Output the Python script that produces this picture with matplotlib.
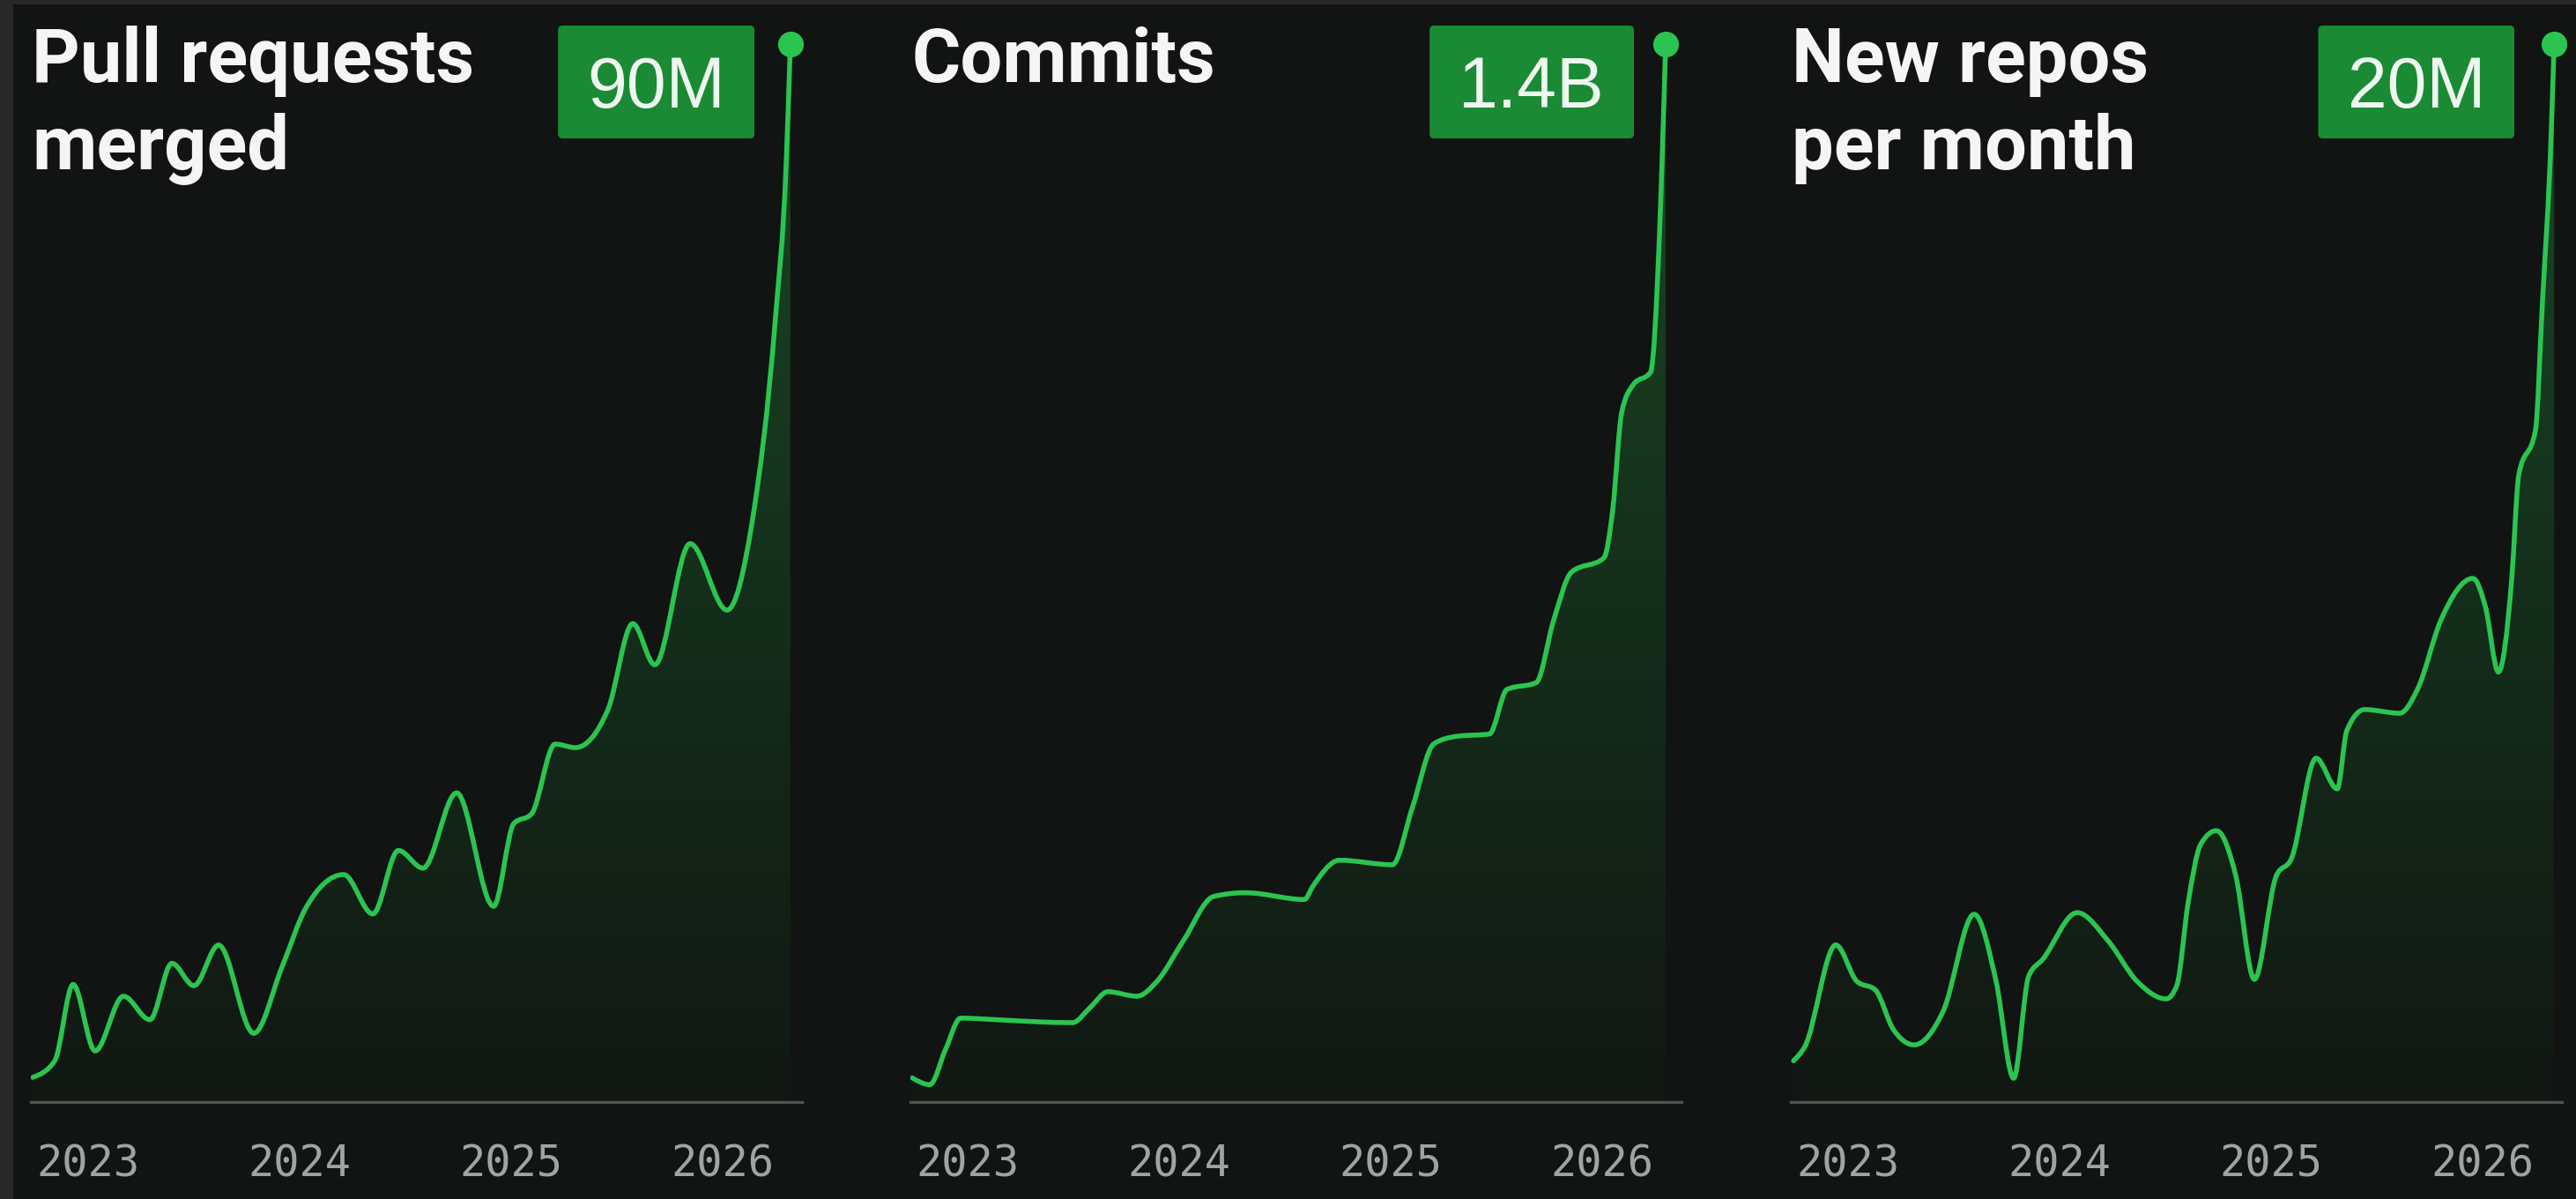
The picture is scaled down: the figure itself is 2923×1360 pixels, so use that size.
import numpy as np
import matplotlib
matplotlib.use("Agg")
import matplotlib.pyplot as plt
from matplotlib.path import Path
from matplotlib.patches import PathPatch, FancyBboxPatch, Rectangle
from matplotlib.colors import LinearSegmentedColormap
from matplotlib.transforms import IdentityTransform

W, H, DPI = 2923, 1360, 100

BG = "#111412"
FRAME = "#2a2728"
GREEN = "#2bc451"
BADGE = "#1b8a34"
AXIS_GRAY = "#4f5451"
TICK_GRAY = "#a0a4a1"

TITLES = ["Pull requests\nmerged", "Commits", "New repos\nper month"]
BADGE_FMT = ["{:.0f}M", "{:.1f}B", "{:.0f}M"]
YEARS = [2023, 2024, 2025, 2026]

# Pull requests merged (millions)
pr_t = [2022.738, 2022.842, 2022.929, 2023.033, 2023.167, 2023.292, 2023.396,
        2023.5, 2023.617, 2023.783, 2023.917, 2024.029, 2024.208, 2024.346,
        2024.467, 2024.583, 2024.742, 2024.917, 2025.013, 2025.096, 2025.208,
        2025.304, 2025.458, 2025.575, 2025.679, 2025.846, 2026.021, 2026.138,
        2026.25, 2026.3, 2026.32]
pr_v = [2.1, 3.5, 10.0, 4.35, 9.0, 7.0, 11.8, 9.9, 13.35, 5.85, 11.5, 16.5,
        19.35, 16.0, 21.4, 19.9, 26.3, 16.65, 23.7, 24.5, 30.45, 30.15, 33.4,
        40.7, 37.2, 47.5, 41.85, 49.2, 66.8, 79.7, 90.0]

# Commits (billions)
commit_t = [2022.738, 2022.821, 2022.896, 2022.967, 2023.133, 2023.342,
            2023.496, 2023.579, 2023.663, 2023.8, 2023.896, 2024.021, 2024.163,
            2024.313, 2024.592, 2024.633, 2024.758, 2025.008, 2025.104,
            2025.204, 2025.313, 2025.467, 2025.55, 2025.688, 2025.771,
            2025.854, 2026.008, 2026.05, 2026.092, 2026.146, 2026.229,
            2026.271, 2026.3]
commit_v = [0.032, 0.023, 0.070, 0.111, 0.109, 0.106, 0.105, 0.125, 0.146,
            0.140, 0.160, 0.214, 0.272, 0.277, 0.268, 0.286, 0.320, 0.314,
            0.391, 0.474, 0.484, 0.487, 0.546, 0.555, 0.638, 0.701, 0.720,
            0.784, 0.912, 0.949, 0.966, 1.149, 1.4]

# New repos per month (millions)
repo_t = [2022.742, 2022.796, 2022.942, 2023.042, 2023.129, 2023.213, 2023.313,
          2023.45, 2023.596, 2023.7, 2023.783, 2023.854, 2023.921, 2024.083,
          2024.229, 2024.367, 2024.504, 2024.554, 2024.608, 2024.667, 2024.742,
          2024.833, 2024.921, 2025.025, 2025.096, 2025.213, 2025.313, 2025.358,
          2025.442, 2025.608, 2025.692, 2025.804, 2025.954, 2026.013, 2026.075,
          2026.138, 2026.171, 2026.25, 2026.283, 2026.325, 2026.338]
repo_v = [0.78, 1.05, 2.97, 2.28, 2.12, 1.38, 1.08, 1.72, 3.55, 2.28, 0.45,
          2.38, 2.70, 3.58, 3.05, 2.28, 1.95, 2.2, 3.77, 4.87, 5.13, 4.28, 2.32,
          4.28, 4.60, 6.50, 5.92, 7.02, 7.42, 7.35, 7.80, 9.12, 9.90, 9.37,
          8.13, 9.90, 11.85, 12.70, 15.12, 18.38, 20.0]

SERIES = [(pr_t, pr_v), (commit_t, commit_v), (repo_t, repo_v)]


def monotone_curve(x, y):
    """Cubic bezier vertices through the points, monotone in x (no overshoot)."""
    x = np.asarray(x, float)
    y = np.asarray(y, float)
    h = np.diff(x)
    s = np.diff(y) / h
    m = np.zeros_like(y)
    for i in range(1, len(x) - 1):
        p = (s[i - 1] * h[i] + s[i] * h[i - 1]) / (h[i - 1] + h[i])
        m[i] = (np.sign(s[i - 1]) + np.sign(s[i])) * min(abs(s[i - 1]), abs(s[i]), 0.5 * abs(p))
    m[0] = (3 * s[0] - m[1]) / 2
    m[-1] = (3 * s[-1] - m[-2]) / 2
    verts = [(x[0], y[0])]
    codes = [Path.MOVETO]
    for i in range(len(x) - 1):
        d = h[i] / 3
        verts += [(x[i] + d, y[i] + m[i] * d), (x[i + 1] - d, y[i + 1] - m[i + 1] * d), (x[i + 1], y[i + 1])]
        codes += [Path.CURVE4] * 3
    return verts, codes


fig = plt.figure(figsize=(W / DPI, H / DPI), dpi=DPI, facecolor=BG)

# dark frame along the left and top edge
fig.add_artist(Rectangle((0, 0), 15, H, transform=IdentityTransform(), fc=FRAME, ec="none"))
fig.add_artist(Rectangle((0, H - 5), W, 5, transform=IdentityTransform(), fc=FRAME, ec="none"))

fade = LinearSegmentedColormap.from_list(
    "fade", [(0.17, 0.77, 0.32, 0.02), (0.17, 0.77, 0.32, 0.30)])
grad = np.linspace(0, 1, 256).reshape(-1, 1)

x_lo, x_hi = 2023 - 65 / 240, 2023 + 810 / 240
renderer = fig.canvas.get_renderer()

for k, ((t, v), title, fmt) in enumerate(zip(SERIES, TITLES, BADGE_FMT)):
    off = [0, 998, 1997][k]
    left, right, top, bottom = 35 + off, 910 + off, 30, 1250
    ax = fig.add_axes([left / W, (H - bottom) / H, (right - left) / W, (bottom - top) / H])
    ax.set_facecolor("none")
    y_hi = v[-1] * 1220 / 1200

    verts, codes = monotone_curve(t, v)
    line = PathPatch(Path(verts, codes), fill=False, ec=GREEN, lw=4.0,
                     capstyle="round", joinstyle="round", zorder=3)
    ax.add_patch(line)

    area = PathPatch(Path(verts + [(t[-1], 0), (t[0], 0), (t[0], 0)],
                          codes + [Path.LINETO, Path.LINETO, Path.CLOSEPOLY]),
                     transform=ax.transData, fc="none", ec="none")
    im = ax.imshow(grad, extent=(x_lo, x_hi, 0, y_hi), origin="lower",
                   aspect="auto", cmap=fade, zorder=1)
    im.set_clip_path(area)

    ax.plot(t[-1], v[-1], "o", ms=21, color=GREEN, mec="none", clip_on=False, zorder=4)

    ax.set_xlim(x_lo, x_hi)
    ax.set_ylim(0, y_hi)
    ax.set_yticks([])
    for side in ("left", "right", "top"):
        ax.spines[side].set_visible(False)
    ax.spines["bottom"].set_color(AXIS_GRAY)
    ax.spines["bottom"].set_linewidth(2.4)
    ax.set_xticks(YEARS, [str(y) for y in YEARS])
    ax.tick_params(axis="x", length=0, pad=61, labelsize=35, labelcolor=TICK_GRAY)
    for lbl in ax.get_xticklabels():
        lbl.set_family("DejaVu Sans Mono")
        lbl.set_va("baseline")

    # title, one line at a time
    for j, line_txt in enumerate(title.split("\n")):
        fig.text((left + 1) / W, (H - (93 + j * 99)) / H, line_txt, color="#f4f5f4",
                 fontsize=61, fontweight="bold", family=["Roboto", "DejaVu Sans"],
                 ha="left", va="baseline")

    # value badge next to the last point
    badge_right = 856 + off
    txt = fig.text((badge_right - 33) / W, (H - 122) / H, fmt.format(v[-1]),
                   color="#eef7ef", fontsize=58, family=["Liberation Sans", "DejaVu Sans"],
                   ha="right", va="baseline", zorder=6)
    bb = txt.get_window_extent(renderer)
    x0 = bb.x0 - 33
    fig.add_artist(FancyBboxPatch((x0, H - 157), badge_right - x0, 128,
                                  boxstyle="round,pad=0,rounding_size=5",
                                  transform=IdentityTransform(), fc=BADGE, ec="none",
                                  zorder=5))

fig.savefig("out.png", dpi=DPI, facecolor=BG)
